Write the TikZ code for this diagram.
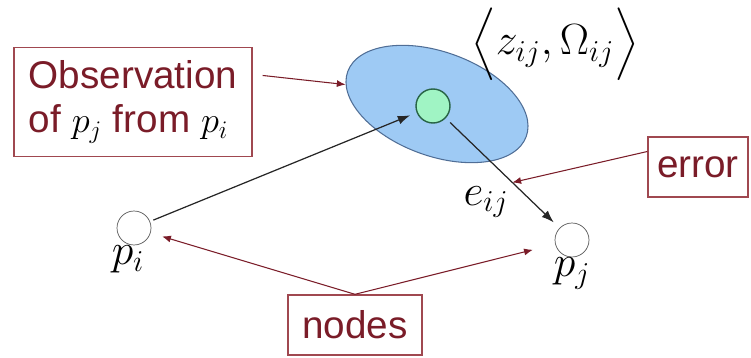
\documentclass[tikz,border=0pt]{standalone}
\usepackage{amsmath,amssymb}
\usepackage{fontspec}
\setsansfont{Liberation Sans}
\usepackage{tikz}
\usetikzlibrary{arrows.meta,shapes.geometric,positioning,calc}

\definecolor{tagred}{RGB}{122,28,40}
\definecolor{tagline}{RGB}{160,72,80}
\definecolor{covblue}{RGB}{158,202,244}
\definecolor{covline}{RGB}{80,110,150}
\definecolor{measgreen}{RGB}{160,244,196}
\definecolor{measline}{RGB}{40,100,70}

\begin{document}
\begin{tikzpicture}[x=0.02cm,y=-0.02cm,
		tagbox/.style={draw=tagline, line width=0.8pt, text=tagred, font=\sffamily\fontsize{22}{25}\selectfont, inner sep=4pt, align=left},
		pose/.style={circle, draw=black!65, fill=white, minimum size=0.68cm, inner sep=0pt},
		tagarrow/.style={draw=tagred, line width=0.6pt, -{Latex[length=5pt,width=4pt]}},
		edgearrow/.style={draw=black!85, line width=0.7pt, -{Latex[length=7pt,width=5pt]}},
		mathlabel/.style={font=\fontsize{23}{26}\selectfont}]
		\useasboundingbox (0,0) rectangle (751,358);

		% uncertainty ellipse and measurement
		\node[ellipse, draw=covline, fill=covblue, line width=0.6pt, minimum width=3.8cm, minimum height=2.08cm, rotate=-20] (cov) at (437,104) {};
		\node[circle, draw=measline, fill=measgreen, line width=0.8pt, minimum size=0.68cm, inner sep=0pt] (meas) at (433,106) {};
		\node[mathlabel] (zomega) at (555,44) {$\Bigl\langle z_{ij},\Omega_{ij}\Bigr\rangle$};

		% the two poses
		\node[pose, label={[mathlabel, inner sep=0pt, xshift=-0.12cm]below:$p_i$}] (pi) at (134,228) {};
		\node[pose, label={[mathlabel, inner sep=0pt]below:$p_j$}] (pj) at (572,240) {};
		\node[mathlabel, inner sep=2pt] (eij) at (486,202) {$e_{ij}$};

		\draw[edgearrow, shorten <=2pt, shorten >=0.14cm] (pi) -- (meas);
		\draw[edgearrow, shorten <=0.12cm, shorten >=0.16cm] (meas) -- (pj);

		% boxed comments
		\node[tagbox, minimum width=4.76cm, minimum height=2.18cm] (obsbox) at (133,102) {Observation\\of \textcolor{black}{$p_j$} from \textcolor{black}{$p_i$}};
		\node[tagbox, minimum width=2.0cm, minimum height=1.2cm, align=center] (errbox) at (698,167) {error};
		\node[tagbox, minimum width=2.68cm, minimum height=1.2cm, align=center] (nodebox) at (355,325) {nodes};

		\draw[tagarrow, shorten <=0.2cm] (obsbox.13) -- (cov.188);
		\draw[tagarrow] (errbox.163) -- (eij.north east);
		\draw[tagarrow, shorten >=0.24cm] (nodebox.north) -- (pi);
		\draw[tagarrow, shorten >=0.46cm] (nodebox.north) -- (pj);
	\end{tikzpicture}
\end{document}
